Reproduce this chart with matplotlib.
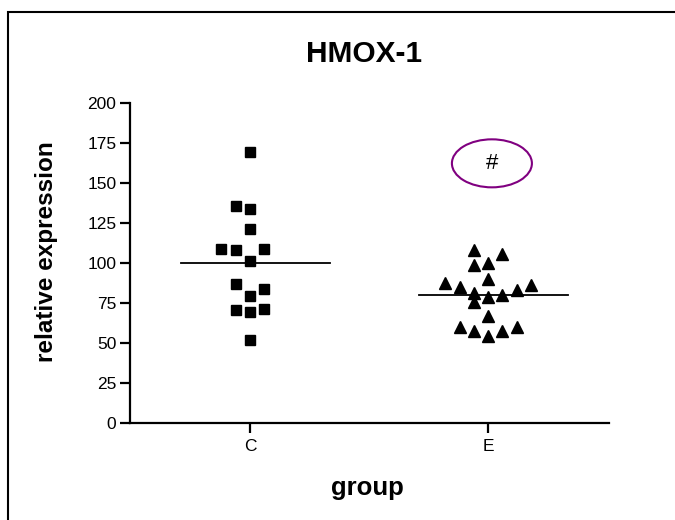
import numpy as np
import matplotlib
matplotlib.use("Agg")
import matplotlib.pyplot as plt
from matplotlib.patches import Ellipse, Rectangle

plt.rcParams['font.family'] = ['Liberation Sans', 'DejaVu Sans']

# Relative HMOX-1 expression per sample
groups = ["C", "E"]
values_c = [169.6, 135.6, 133.6, 121.4, 108.8, 108.1, 108.8, 101.3,
            86.9, 79.6, 83.6, 70.6, 69.6, 71.1, 51.9]
values_e = [108.1, 105.6, 98.8, 99.8, 90.0, 87.3, 84.8, 86.3, 83.1, 81.1,
            78.9, 80.0, 75.8, 66.9, 59.8, 57.7, 54.4, 57.7, 59.8]
# column slot of each point in the scatter (dot-plot layout)
slots_c = [0, -1, 0, 0, -2, -1, 1, 0, -1, 0, 1, -1, 0, 1, 0]
slots_e = [-1, 1, -1, 0, 0, -3, -2, 3, 2, -1, 0, 1, -1, 0, -2, -1, 0, 1, 2]
yticks = [0, 25, 50, 75, 100, 125, 150, 175, 200]

slot_width = 0.06

fig = plt.figure(figsize=(6.75, 5.2), dpi=100)
ax = fig.add_axes([0.1919, 0.1865, 0.7104, 0.6154])

for i, (vals, slots, marker, ms) in enumerate(
        [(values_c, slots_c, 's', 7.3), (values_e, slots_e, '^', 8.0)]):
    xs = i + np.array(slots) * slot_width
    ax.plot(xs, vals, linestyle='none', marker=marker, markersize=ms,
            color='black', clip_on=False, zorder=3)
    m = np.mean(vals)
    ax.plot([i - 0.29, i + 0.335], [m, m], color='black', lw=1.3, zorder=2)

# significance marker
ax.add_patch(Ellipse((1.016, 162.3), 0.336, 30, fill=False,
                     edgecolor='#800080', lw=1.5))
ax.text(1.016, 162.3, "#", ha='center', va='center', fontsize=16)

ax.set_xlim(-0.506, 1.508)
ax.set_ylim(0, 200)
ax.set_xticks([0, 1])
ax.set_xticklabels(groups)
ax.set_yticks(yticks)
ax.set_yticklabels([str(t) for t in yticks])

for side in ('top', 'right'):
    ax.spines[side].set_visible(False)
for side in ('left', 'bottom'):
    ax.spines[side].set_linewidth(1.6)

ax.tick_params(axis='y', length=7.2, width=1.6, pad=2.2, labelsize=12.5)
ax.tick_params(axis='x', length=7.2, width=1.6, pad=4.5, labelsize=12.5)

ax.set_title("HMOX-1", fontsize=21.5, fontweight='bold', x=0.49, y=1.128,
             pad=0)
ax.set_ylabel("relative expression", fontsize=17.5, fontweight='bold')
ax.yaxis.set_label_coords(-0.149, 0.536)
ax.set_xlabel("group", fontsize=18.5, fontweight='bold')
ax.xaxis.set_label_coords(0.496, -0.164)

# outer border
fig.patches.append(Rectangle((8 / 675, -0.05), 1.1, 1 - 12 / 520 + 0.05,
                             transform=fig.transFigure, fill=False,
                             edgecolor='black', lw=1.5))

fig.savefig("out.png", dpi=100)
